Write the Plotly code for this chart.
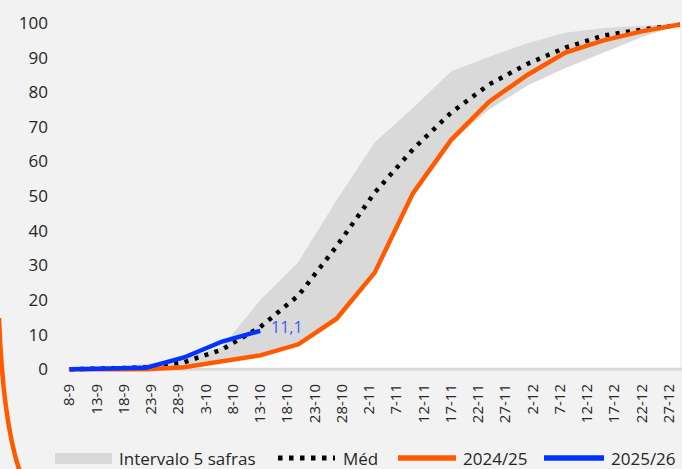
import plotly.graph_objects as go

# Days counted from 8 September; weekly observations
days = [0, 7, 14, 21, 28, 35, 42, 49, 56, 63, 70, 77, 84, 91, 98, 105, 112]

# Five-season range (lower / upper bound), % planted
range_low = [0, 0, 0, 0.5, 2.0, 4.0, 7.0, 14.5, 27.8, 50.6, 65.8, 75.0, 82.0, 87.0, 91.4, 96.0, 99.5]
range_high = [0, 0.5, 1.5, 3.2, 6.4, 20.0, 31.0, 48.8, 65.5, 75.5, 86.0, 90.3, 94.2, 97.2, 98.6, 99.3, 99.9]

# Five-season average
media = [0, 0.1, 0.5, 2.0, 5.7, 12.2, 21.3, 35.5, 51.0, 63.5, 74.1, 82.3, 88.2, 92.9, 96.4, 98.1, 99.5]

# 2024/25 season
safra_2425 = [0, 0, 0, 0.6, 2.2, 4.0, 7.2, 14.6, 27.9, 50.8, 66.2, 77.3, 85.0, 91.5, 95.0, 97.6, 99.6]

# 2025/26 season (to date)
days_2526 = [0, 7, 14, 21, 28, 35]
safra_2526 = [0, 0.1, 0.4, 3.4, 8.0, 11.1]

# Axis ticks
tick_days = list(range(0, 111, 5))
tick_labels = ["8-9", "13-9", "18-9", "23-9", "28-9", "3-10", "8-10", "13-10", "18-10",
               "23-10", "28-10", "2-11", "7-11", "12-11", "17-11", "22-11", "27-11",
               "2-12", "7-12", "12-12", "17-12", "22-12", "27-12"]
y_ticks = list(range(0, 101, 10))

ORANGE = "#ff5a00"
BLUE = "#0033ff"
BAND = "#d9d9d9"
BG = "#f2f2f2"
TXT = "#262626"
FONT = "Open Sans"

X_RANGE = [-0.28, 112.39]
Y_RANGE = [-0.8, 100.6]

fig = go.Figure()

# Lower bound of the range: white below it
fig.add_trace(go.Scatter(x=days, y=range_low, mode="lines", line=dict(width=0),
                         fill="tozeroy", fillcolor="white", hoverinfo="skip"))
# Upper bound: grey band between the bounds
fig.add_trace(go.Scatter(x=days, y=range_high, mode="lines", line=dict(width=0),
                         fill="tonexty", fillcolor=BAND, name="Intervalo 5 safras"))
# Horizontal axis baseline at zero
fig.add_trace(go.Scatter(x=X_RANGE, y=[0, 0], mode="lines",
                         line=dict(color=BAND, width=3), hoverinfo="skip"))
fig.add_trace(go.Scatter(x=days, y=media, mode="lines", name="Méd",
                         line=dict(color="black", width=4.5, dash="4px,6.5px")))
fig.add_trace(go.Scatter(x=days, y=safra_2425, mode="lines", name="2024/25",
                         line=dict(color=ORANGE, width=4.5)))
fig.add_trace(go.Scatter(x=days_2526, y=safra_2526, mode="lines", name="2025/26",
                         line=dict(color=BLUE, width=4.5)))

fig.add_annotation(x=days_2526[-1], y=safra_2526[-1],
                   text=f"{safra_2526[-1]:.1f}".replace(".", ","),
                   showarrow=False, xanchor="left", yanchor="middle",
                   xshift=9, yshift=4, font=dict(family=FONT, size=16, color="#3a5bff"))

# Layout geometry (pixels)
W, H = 682, 469
ML, MR, MT, MB = 68, 0, 21, 97
plot_w = W - ML - MR
plot_h = H - MT - MB


def px(xp):
    return (xp - ML) / plot_w


def py(yp):
    return (H - MB - yp) / plot_h


# Manual legend along the bottom
ly = 458
shapes = [
    dict(type="rect", xref="paper", yref="paper", x0=px(55), x1=px(112), y0=py(464), y1=py(453),
         fillcolor=BAND, line=dict(width=0)),
    dict(type="line", xref="paper", yref="paper", x0=px(278), x1=px(335), y0=py(ly), y1=py(ly),
         line=dict(color="black", width=5, dash="4.5px,6.5px")),
    dict(type="line", xref="paper", yref="paper", x0=px(398), x1=px(456), y0=py(ly), y1=py(ly),
         line=dict(color=ORANGE, width=5.5)),
    dict(type="line", xref="paper", yref="paper", x0=px(544), x1=px(604), y0=py(ly), y1=py(ly),
         line=dict(color=BLUE, width=5.5)),
    # decorative arc on the left edge
    dict(type="path", xref="paper", yref="paper",
         path=f"M {px(-1)},{py(318)} Q {px(3)},{py(425)} {px(21)},{py(475)}",
         line=dict(color=ORANGE, width=4.5)),
]
legend_texts = [(117, "Intervalo 5 safras"), (341, "Méd"), (461, "2024/25"), (609, "2025/26")]
for xt, t in legend_texts:
    fig.add_annotation(xref="paper", yref="paper", x=px(xt), y=py(ly), text=t,
                       showarrow=False, xanchor="left", yanchor="middle",
                       font=dict(family=FONT, size=17, color=TXT))

fig.update_layout(
    width=W, height=H,
    margin=dict(l=ML, r=MR, t=MT, b=MB),
    paper_bgcolor=BG, plot_bgcolor=BG,
    showlegend=False,
    shapes=shapes,
    font=dict(family=FONT, color=TXT),
    xaxis=dict(range=X_RANGE, tickmode="array", tickvals=tick_days, ticktext=tick_labels,
               tickangle=-90, showgrid=False, zeroline=False, showline=False,
               ticks="", ticklabelstandoff=8, tickfont=dict(size=15, color=TXT)),
    yaxis=dict(range=Y_RANGE, tickmode="array", tickvals=y_ticks, showgrid=False,
               zeroline=False, showline=False, ticks="", ticklabelstandoff=19,
               tickfont=dict(size=17, color=TXT)),
)

fig.write_html("out.html")
